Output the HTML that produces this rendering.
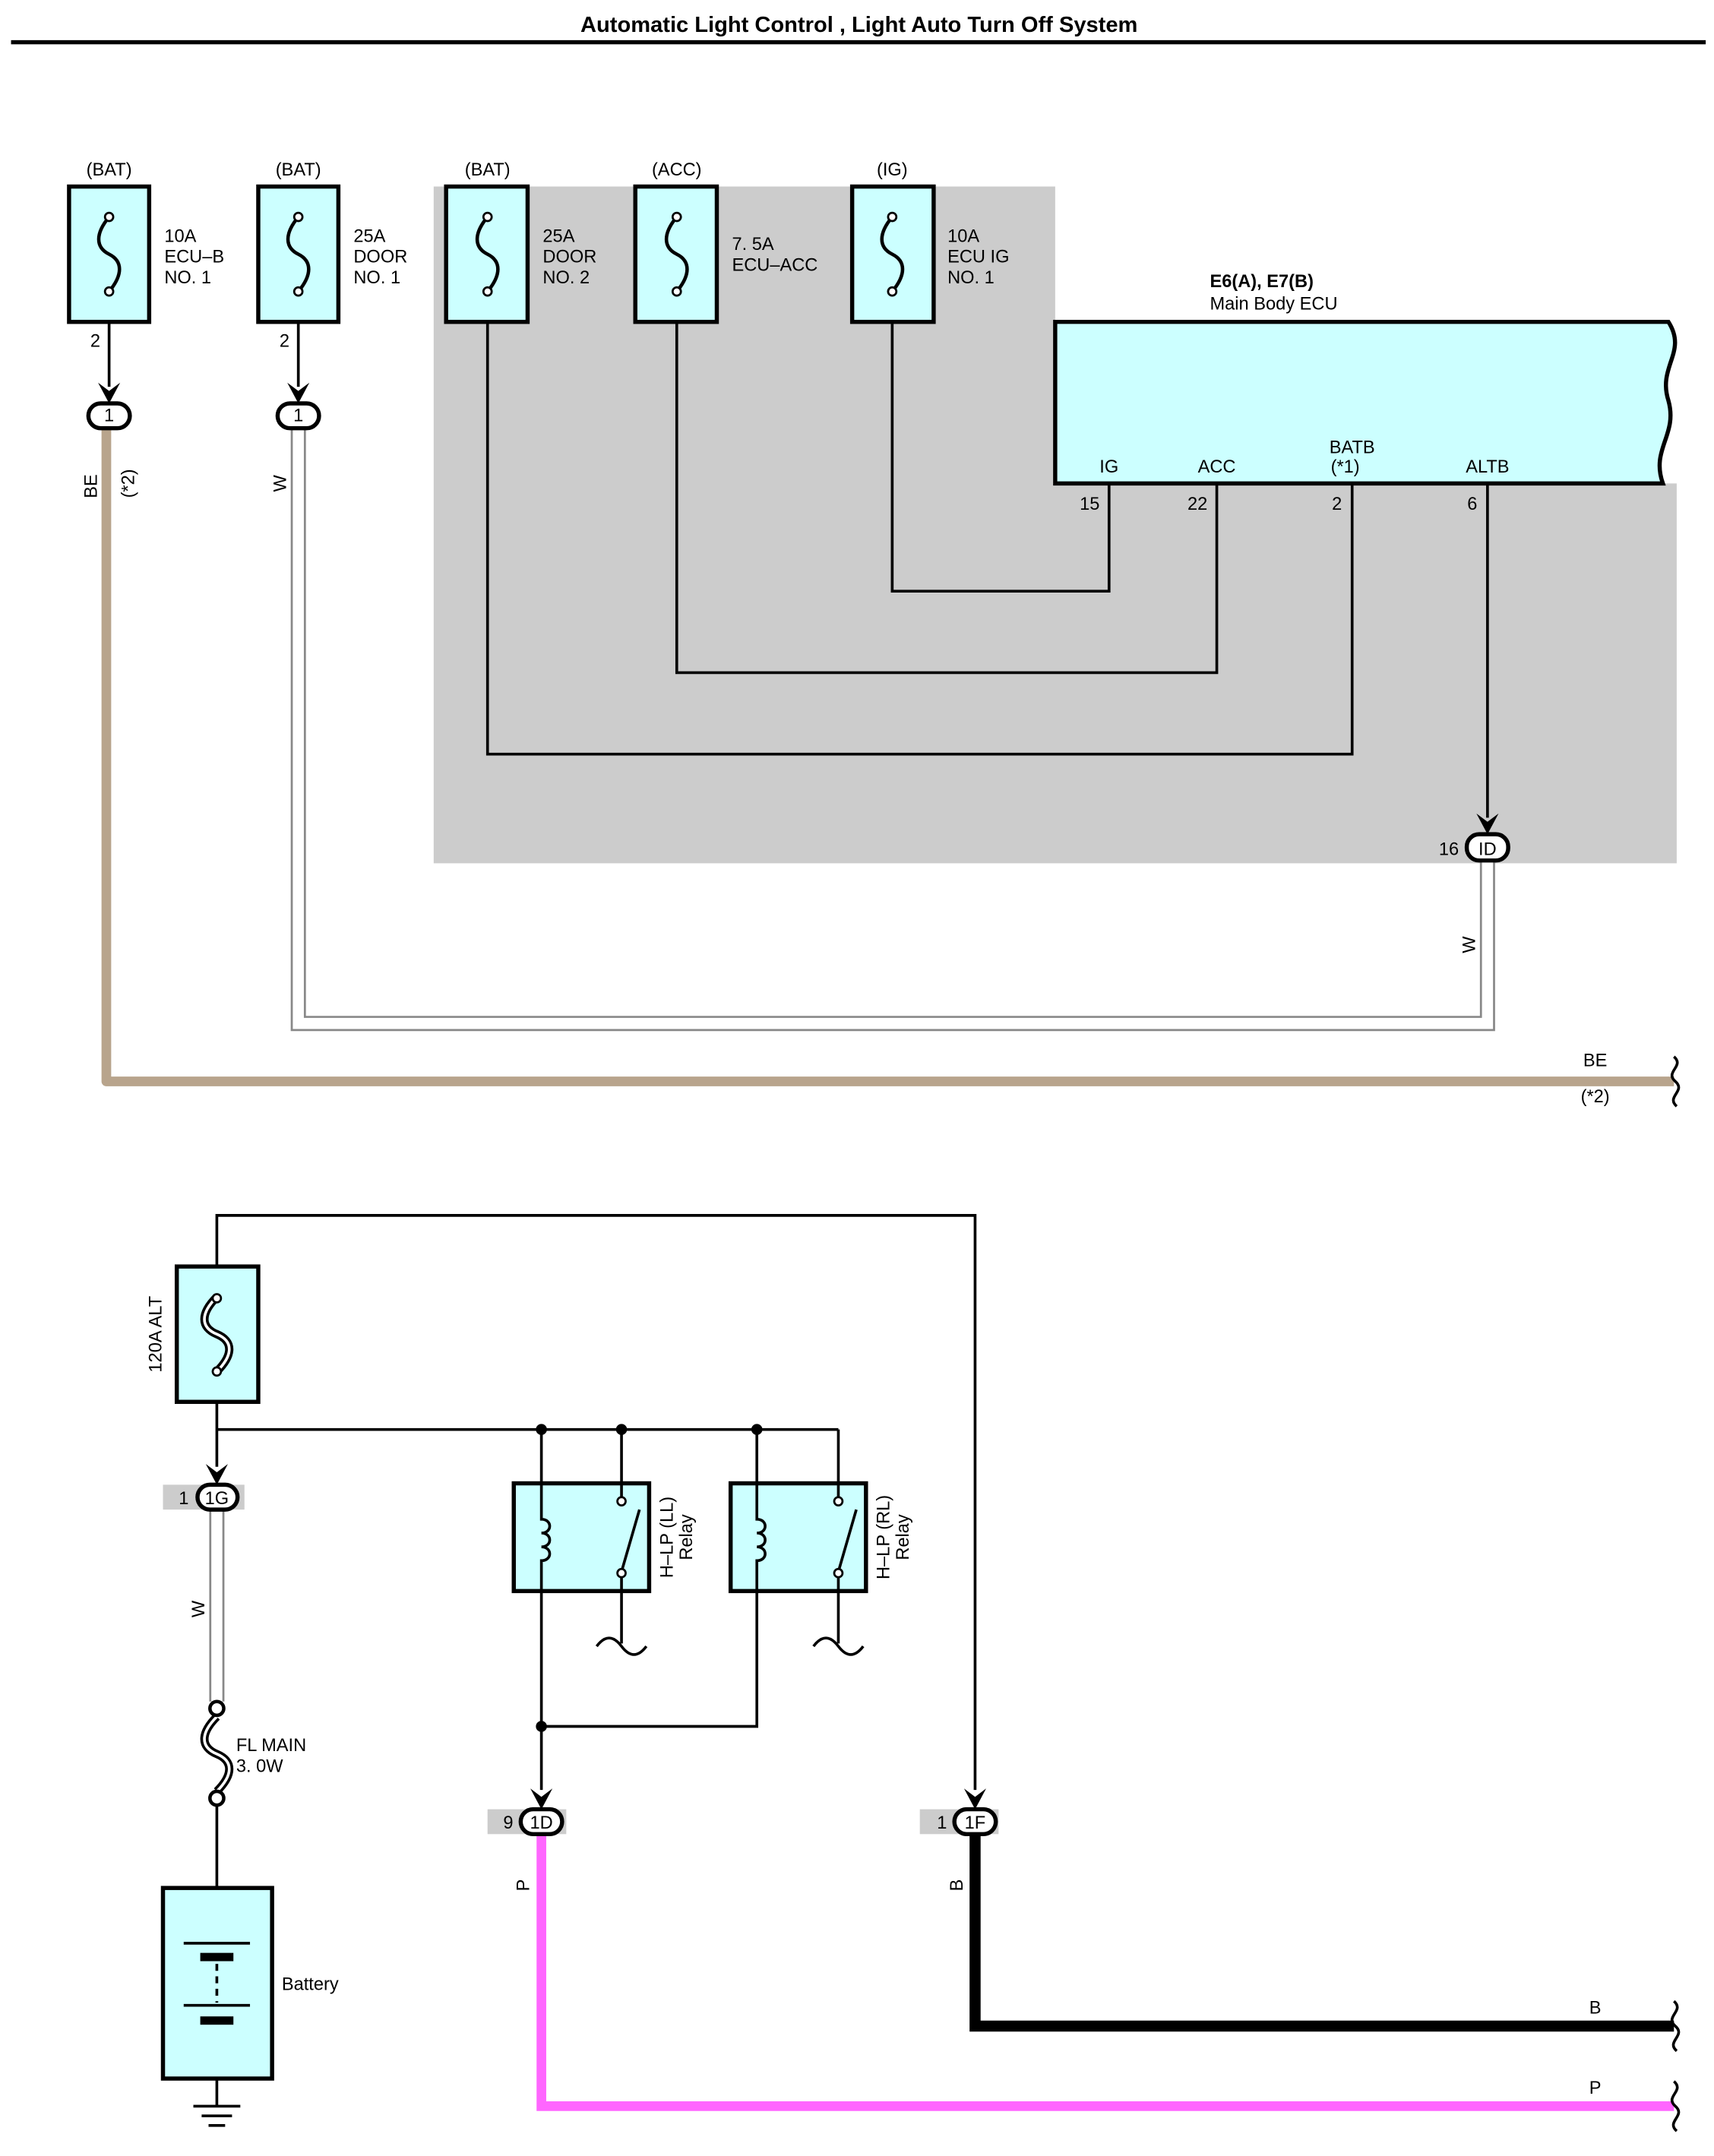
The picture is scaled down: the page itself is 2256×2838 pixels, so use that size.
<!DOCTYPE html>
<html><head><meta charset="utf-8"><style>
html,body{margin:0;padding:0;background:#fff;}
svg{display:block;}
text{font-family:"Liberation Sans",sans-serif;font-size:13px;fill:#000;}
</style></head><body>
<svg width="2256" height="2838" viewBox="0 0 1241 1561" xmlns="http://www.w3.org/2000/svg">
<defs>
<g id="fuse"><path d="M0,-27 C-10,-15 -10,-5 0,0 C10,5 10,15 0,27" fill="none" stroke="#000" stroke-width="2.5"/>
<circle cx="0" cy="-27" r="3" fill="#fff" stroke="#000" stroke-width="1.5"/><circle cx="0" cy="27" r="3" fill="#fff" stroke="#000" stroke-width="1.5"/></g>
<g id="bigfuse"><path d="M0,-27 C-12,-15 -12,-5 0,0 C12,5 12,15 0,27" fill="none" stroke="#000" stroke-width="6"/>
<path d="M0,-27 C-12,-15 -12,-5 0,0 C12,5 12,15 0,27" fill="none" stroke="#fff" stroke-width="2"/></g>
</defs>
<text x="622" y="23" text-anchor="middle" font-weight="bold" style="font-size:16px">Automatic Light Control , Light Auto Turn Off System</text>
<rect x="8" y="29" width="1227" height="3" fill="#000"/>

<polygon points="314,135 764,135 764,350 1214,350 1214,625 314,625" fill="#cccccc"/>

<!-- fuse boxes -->
<g stroke="#000" stroke-width="3" fill="#ccffff">
<rect x="50" y="135" width="58" height="98"/><rect x="187" y="135" width="58" height="98"/>
<rect x="323" y="135" width="59" height="98"/><rect x="460" y="135" width="59" height="98"/>
<rect x="617" y="135" width="59" height="98"/>
</g>
<use href="#fuse" x="79" y="184"/><use href="#fuse" x="216" y="184"/><use href="#fuse" x="353" y="184"/><use href="#fuse" x="490" y="184"/><use href="#fuse" x="646" y="184"/>
<text x="79" y="127" text-anchor="middle">(BAT)</text><text x="216" y="127" text-anchor="middle">(BAT)</text>
<text x="353" y="127" text-anchor="middle">(BAT)</text><text x="490" y="127" text-anchor="middle">(ACC)</text><text x="646" y="127" text-anchor="middle">(IG)</text>
<text x="119" y="175">10A</text><text x="119" y="190">ECU–B</text><text x="119" y="205">NO. 1</text>
<text x="256" y="175">25A</text><text x="256" y="190">DOOR</text><text x="256" y="205">NO. 1</text>
<text x="393" y="175">25A</text><text x="393" y="190">DOOR</text><text x="393" y="205">NO. 2</text>
<text x="530" y="181">7. 5A</text><text x="530" y="196">ECU–ACC</text>
<text x="686" y="175">10A</text><text x="686" y="190">ECU IG</text><text x="686" y="205">NO. 1</text>
<text x="69" y="251" text-anchor="middle">2</text><text x="206" y="251" text-anchor="middle">2</text>

<!-- wires top -->
<g fill="none" stroke="#000" stroke-width="2">
<line x1="79" y1="233" x2="79" y2="280"/><line x1="216" y1="233" x2="216" y2="280"/>
<polyline points="646,233 646,428 803,428 803,350"/>
<polyline points="490,233 490,487 881,487 881,350"/>
<polyline points="353,233 353,546 979,546 979,350"/>
<line x1="1077" y1="350" x2="1077" y2="592"/>
</g>
<g fill="#000">
<polygon points="71,277 79,292 87,277 79,283"/><polygon points="208,277 216,292 224,277 216,283"/>
<polygon points="1069,589 1077,604 1085,589 1077,595"/>
</g>
<!-- BE wire -->
<polyline points="77,310 77,783 1212,783" fill="none" stroke="#b8a48c" stroke-width="7" stroke-linejoin="round"/>
<!-- W wire -->
<polyline points="216,310 216,741 1077,741 1077,623" fill="none" stroke="#888" stroke-width="11"/>
<polyline points="216,310 216,741 1077,741 1077,623" fill="none" stroke="#fff" stroke-width="8"/>
<!-- connectors -->
<g stroke="#000" stroke-width="3" fill="#fff">
<rect x="64" y="292" width="30" height="18" rx="9"/><rect x="201" y="292" width="30" height="18" rx="9"/>
<rect x="1062" y="604" width="30" height="19" rx="9"/>
</g>
<text x="79" y="305" text-anchor="middle">1</text><text x="216" y="305" text-anchor="middle">1</text>
<text x="1077" y="619" text-anchor="middle">ID</text><text x="1049" y="619" text-anchor="middle">16</text>
<text transform="translate(70,352) rotate(-90)" text-anchor="middle">BE</text>
<text transform="translate(97,350) rotate(-90)" text-anchor="middle">(*2)</text>
<text transform="translate(207,350) rotate(-90)" text-anchor="middle">W</text>
<text transform="translate(1068,684) rotate(-90)" text-anchor="middle">W</text>

<!-- ECU -->
<path d="M764,233 L1208,233 C1222,255 1200,265 1208,290 C1215,315 1195,325 1204,350 L764,350 Z" fill="#ccffff" stroke="#000" stroke-width="3"/>
<text x="876" y="208" font-weight="bold">E6(A), E7(B)</text><text x="876" y="224">Main Body ECU</text>
<text x="803" y="342" text-anchor="middle">IG</text><text x="881" y="342" text-anchor="middle">ACC</text>
<text x="979" y="328" text-anchor="middle">BATB</text><text x="974" y="342" text-anchor="middle">(*1)</text>
<text x="1077" y="342" text-anchor="middle">ALTB</text>
<text x="789" y="369" text-anchor="middle">15</text><text x="867" y="369" text-anchor="middle">22</text>
<text x="968" y="369" text-anchor="middle">2</text><text x="1066" y="369" text-anchor="middle">6</text>
<text x="1155" y="772" text-anchor="middle">BE</text><text x="1155" y="798" text-anchor="middle">(*2)</text>
<path d="M1212,765 C1220,772 1205,776 1213,783 C1221,790 1206,794 1214,801" fill="none" stroke="#000" stroke-width="2"/>

<!-- bottom -->
<g fill="none" stroke="#000" stroke-width="2">
<polyline points="157,917 157,880 706,880 706,1296"/>
<line x1="157" y1="1015" x2="157" y2="1062"/>
<line x1="157" y1="1035" x2="607" y2="1035"/>
<line x1="392" y1="1035" x2="392" y2="1296"/>
<line x1="450" y1="1035" x2="450" y2="1074"/>
<polyline points="548,1035 548,1074"/>
<line x1="607" y1="1035" x2="607" y2="1074"/>
<polyline points="392,1250 548,1250 548,1152"/>
<line x1="157" y1="1302" x2="157" y2="1367"/>
</g>
<g fill="#000">
<circle cx="392" cy="1035" r="4"/><circle cx="450" cy="1035" r="4"/><circle cx="548" cy="1035" r="4"/><circle cx="392" cy="1250" r="4"/>
<polygon points="149,1060 157,1075 165,1060 157,1066"/><polygon points="384,1295 392,1310 400,1295 392,1301"/>
<polygon points="698,1295 706,1310 714,1295 706,1301"/>
</g>
<rect x="128" y="917" width="59" height="98" fill="#ccffff" stroke="#000" stroke-width="3"/>
<use href="#bigfuse" x="157" y="966"/>
<circle cx="157" cy="940" r="3" fill="#fff" stroke="#000" stroke-width="1.5"/><circle cx="157" cy="993" r="3" fill="#fff" stroke="#000" stroke-width="1.5"/>
<text transform="translate(117,966) rotate(-90)" text-anchor="middle">120A ALT</text>

<!-- gray connector backgrounds -->
<rect x="118" y="1075" width="59" height="18" fill="#cccccc"/>
<rect x="353" y="1310" width="57" height="18" fill="#cccccc"/>
<rect x="666" y="1310" width="57" height="18" fill="#cccccc"/>

<!-- W wire 2 -->
<line x1="157" y1="1093" x2="157" y2="1232" stroke="#888" stroke-width="11"/>
<line x1="157" y1="1093" x2="157" y2="1232" stroke="#fff" stroke-width="8"/>
<text transform="translate(148,1165) rotate(-90)" text-anchor="middle">W</text>
<!-- FL main -->
<use href="#bigfuse" x="157" y="1270" transform="translate(0,0)"/>
<circle cx="157" cy="1237" r="5" fill="#fff" stroke="#000" stroke-width="2.5"/><circle cx="157" cy="1302" r="5" fill="#fff" stroke="#000" stroke-width="2.5"/>
<text x="171" y="1268">FL MAIN</text><text x="171" y="1283">3. 0W</text>

<!-- P and B wires -->
<polyline points="392,1328 392,1525 1212,1525" fill="none" stroke="#ff66ff" stroke-width="7"/>
<polyline points="706,1328 706,1467 1212,1467" fill="none" stroke="#000" stroke-width="8"/>
<text transform="translate(383,1365) rotate(-90)" text-anchor="middle">P</text>
<text transform="translate(697,1365) rotate(-90)" text-anchor="middle">B</text>
<text x="1155" y="1458" text-anchor="middle">B</text><text x="1155" y="1516" text-anchor="middle">P</text>
<path d="M1212,1449 C1220,1456 1205,1460 1213,1467 C1221,1474 1206,1478 1214,1485" fill="none" stroke="#000" stroke-width="2"/>
<path d="M1212,1507 C1220,1514 1205,1518 1213,1525 C1221,1532 1206,1536 1214,1543" fill="none" stroke="#000" stroke-width="2"/>

<!-- connectors bottom -->
<g stroke="#000" stroke-width="3" fill="#fff">
<rect x="143" y="1075" width="29" height="18" rx="9"/><rect x="377" y="1310" width="30" height="18" rx="9"/><rect x="691" y="1310" width="30" height="18" rx="9"/>
</g>
<text x="157" y="1089" text-anchor="middle">1G</text><text x="133" y="1089" text-anchor="middle">1</text>
<text x="392" y="1324" text-anchor="middle">1D</text><text x="368" y="1324" text-anchor="middle">9</text>
<text x="706" y="1324" text-anchor="middle">1F</text><text x="682" y="1324" text-anchor="middle">1</text>

<!-- relays -->
<g stroke="#000" stroke-width="3" fill="#ccffff">
<rect x="372" y="1074" width="98" height="78"/><rect x="529" y="1074" width="98" height="78"/>
</g>
<g fill="none" stroke="#000" stroke-width="2">
<path d="M392,1074 V1100 c8,0 8,10 0,10 c8,0 8,10 0,10 c8,0 8,10 0,10 V1152"/>
<path d="M548,1074 V1100 c8,0 8,10 0,10 c8,0 8,10 0,10 c8,0 8,10 0,10 V1152"/>
<path d="M450,1074 V1088 M463,1093 L450,1138 M450,1138 V1190"/>
<path d="M607,1074 V1088 M620,1093 L607,1138 M607,1138 V1190"/>
<path d="M432,1192 c6,-8 12,-8 18,0 c6,8 12,8 18,0"/>
<path d="M589,1192 c6,-8 12,-8 18,0 c6,8 12,8 18,0"/>
</g>
<g fill="#fff" stroke="#000" stroke-width="1.5">
<circle cx="450" cy="1087" r="3"/><circle cx="450" cy="1139" r="3"/><circle cx="607" cy="1087" r="3"/><circle cx="607" cy="1139" r="3"/>
</g>
<text transform="translate(487,1113) rotate(-90)" text-anchor="middle">H–LP (LL)</text>
<text transform="translate(501,1113) rotate(-90)" text-anchor="middle">Relay</text>
<text transform="translate(644,1113) rotate(-90)" text-anchor="middle">H–LP (RL)</text>
<text transform="translate(658,1113) rotate(-90)" text-anchor="middle">Relay</text>

<!-- battery -->
<rect x="118" y="1367" width="79" height="138" fill="#ccffff" stroke="#000" stroke-width="3"/>
<line x1="133" y1="1407" x2="181" y2="1407" stroke="#000" stroke-width="2"/>
<rect x="145" y="1414" width="24" height="6" fill="#000"/>
<line x1="157" y1="1422" x2="157" y2="1450" stroke="#000" stroke-width="2" stroke-dasharray="5,4"/>
<line x1="133" y1="1452" x2="181" y2="1452" stroke="#000" stroke-width="2"/>
<rect x="145" y="1460" width="24" height="6" fill="#000"/>
<text x="204" y="1441">Battery</text>
<g stroke="#000" stroke-width="2">
<line x1="157" y1="1505" x2="157" y2="1525"/>
<line x1="140" y1="1525" x2="174" y2="1525"/><line x1="146" y1="1532" x2="168" y2="1532"/><line x1="151" y1="1539" x2="163" y2="1539"/>
</g>
</svg>
</body></html>
